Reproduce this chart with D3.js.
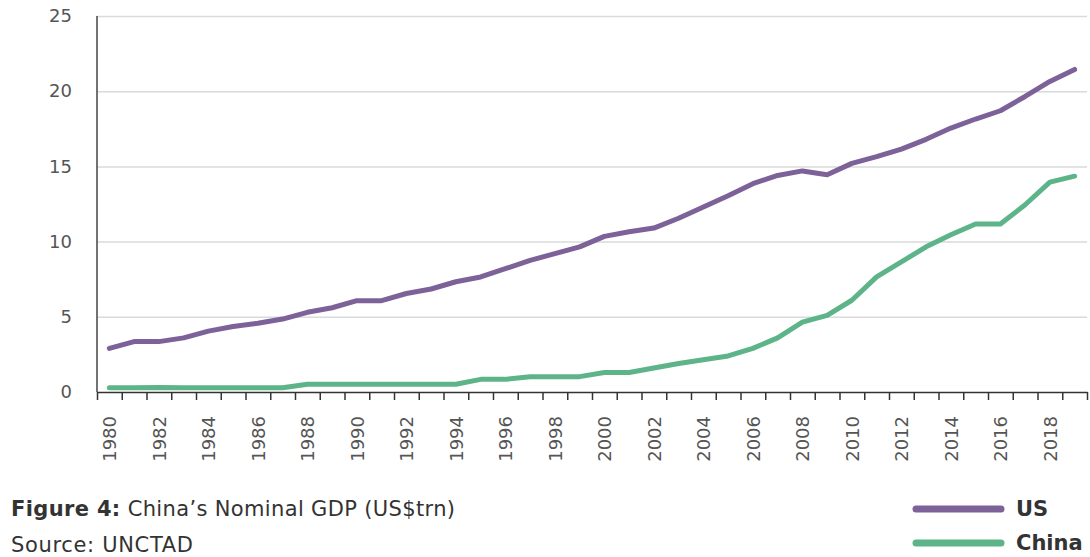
<!DOCTYPE html>
<html>
<head>
<meta charset="utf-8">
<script src="https://cdn.jsdelivr.net/npm/d3@7"></script>
<style>
  body { margin: 0; background: #fff; }
  svg { display: block; font-family: "DejaVu Sans", sans-serif; }
</style>
</head>
<body>
<div class="canvas"></div>
<script>
// data (US$ trillion)
const years = d3.range(1980, 2020);
const usGdp = [2.9, 3.35, 3.35, 3.6, 4.05, 4.35, 4.57, 4.85, 5.3, 5.6,
  6.07, 6.07, 6.55, 6.85, 7.33, 7.65, 8.2, 8.75, 9.2, 9.65,
  10.35, 10.65, 10.9, 11.55, 12.3, 13.05, 13.85, 14.4, 14.7, 14.45,
  15.2, 15.65, 16.15, 16.8, 17.55, 18.15, 18.7, 19.65, 20.65, 21.45];
const chinaGdp = [0.28, 0.28, 0.3, 0.28, 0.28, 0.28, 0.28, 0.28, 0.52, 0.52,
  0.52, 0.52, 0.52, 0.52, 0.52, 0.84, 0.84, 1.02, 1.02, 1.02,
  1.3, 1.3, 1.6, 1.9, 2.15, 2.4, 2.9, 3.6, 4.65, 5.1,
  6.1, 7.65, 8.65, 9.65, 10.45, 11.17, 11.17, 12.45, 13.95, 14.35];
const yTicks = [0, 5, 10, 15, 20, 25];
const seriesNames = ['US', 'China'];
const seriesColours = ['#7d6199', '#5db489'];

const dims = { width: 1090, height: 557 };
const plot = { left: 97, right: 1087, top: 16, bottom: 392 };

const svg = d3.select('.canvas')
  .append('svg')
  .attr('width', dims.width)
  .attr('height', dims.height);

// one slot per year, ticks on the slot edges
const x = d3.scaleLinear().domain([1980, 2020]).range([plot.left, plot.right]);
const y = d3.scaleLinear().domain([0, 25]).range([plot.bottom, plot.top]);

// gridlines
svg.append('g')
  .attr('transform', `translate(${plot.left},0)`)
  .call(d3.axisLeft(y).tickValues(yTicks.slice(1)).tickSize(-(plot.right - plot.left)).tickFormat(''))
  .call(g => g.select('.domain').remove())
  .call(g => g.selectAll('line').attr('stroke', '#dadada').attr('stroke-width', 1.5));

// y axis
svg.append('g')
  .attr('transform', `translate(${plot.left},0)`)
  .call(d3.axisLeft(y).tickValues(yTicks).tickSize(0).tickPadding(25))
  .call(g => g.select('.domain').attr('stroke', '#444').attr('stroke-width', 1.5)
    .attr('d', `M0,${plot.top}V${plot.bottom}`))
  .call(g => g.selectAll('text')
    .attr('fill', '#555').attr('font-size', 18).attr('font-family', '"DejaVu Sans", sans-serif'));

// x axis ticks
svg.append('g')
  .attr('transform', `translate(0,${plot.bottom})`)
  .call(d3.axisBottom(x).tickValues(d3.range(1980, 2021)).tickSize(8).tickSizeOuter(0).tickFormat(''))
  .call(g => g.select('.domain').attr('stroke', '#333').attr('stroke-width', 1.5))
  .call(g => g.selectAll('line').attr('stroke', '#333').attr('stroke-width', 1.5));

// x axis labels, every other year, in the slot centres
svg.append('g')
  .attr('transform', `translate(0,${plot.bottom})`)
  .call(d3.axisBottom(x).tickValues(years.filter(d => d % 2 === 0).map(d => d + 0.5))
    .tickSize(0).tickFormat(d => Math.floor(d)))
  .call(g => g.select('.domain').remove())
  .call(g => g.selectAll('text')
    .attr('transform', 'rotate(-90)')
    .attr('x', -24).attr('y', 0).attr('dy', '0.36em')
    .attr('text-anchor', 'end')
    .attr('fill', '#555').attr('font-size', 18).attr('font-family', '"DejaVu Sans", sans-serif'));

// lines
const line = d3.line()
  .x((d, i) => x(years[i] + 0.5))
  .y(d => y(d));

[usGdp, chinaGdp].forEach((values, i) => {
  svg.append('path')
    .datum(values)
    .attr('fill', 'none')
    .attr('stroke', seriesColours[i])
    .attr('stroke-width', 5)
    .attr('stroke-linejoin', 'round')
    .attr('stroke-linecap', 'round')
    .attr('d', line);
});

// caption
const caption = svg.append('text')
  .attr('x', 11).attr('y', 516)
  .attr('fill', '#333').attr('font-size', 21)
  .attr('textLength', 444).attr('lengthAdjust', 'spacing');
caption.append('tspan').attr('font-weight', 'bold').text('Figure 4:');
caption.append('tspan').text(' China\u2019s Nominal GDP (US$trn)');

svg.append('text')
  .attr('x', 11).attr('y', 552)
  .attr('fill', '#333').attr('font-size', 21)
  .attr('textLength', 182).attr('lengthAdjust', 'spacing')
  .text('Source: UNCTAD');

// legend
const legend = svg.append('g');
seriesNames.forEach((name, i) => {
  const ly = 509 + i * 34;
  legend.append('line')
    .attr('x1', 916).attr('x2', 1001)
    .attr('y1', ly).attr('y2', ly)
    .attr('stroke', seriesColours[i])
    .attr('stroke-width', 7)
    .attr('stroke-linecap', 'round');
  legend.append('text')
    .attr('x', 1016).attr('y', ly + 7)
    .attr('fill', '#333').attr('font-size', 21).attr('font-weight', 'bold')
    .text(name);
});
</script>
</body>
</html>
